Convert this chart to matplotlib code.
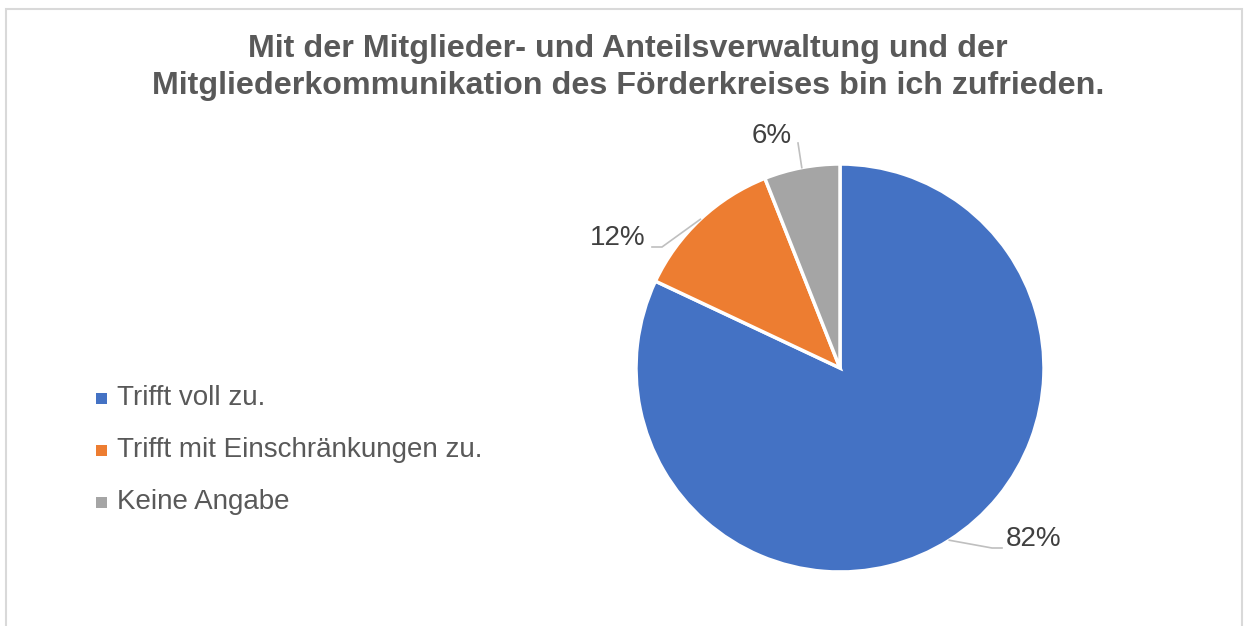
import numpy as np
import matplotlib
matplotlib.use("Agg")
import matplotlib.pyplot as plt
from matplotlib.patches import Rectangle

plt.rcParams['font.family'] = ['Liberation Sans', 'DejaVu Sans']

# Data
categories = ["Trifft voll zu.", "Trifft mit Einschränkungen zu.", "Keine Angabe"]
values = [82, 12, 6]
labels = ["82%", "12%", "6%"]
colors = ["#4472C4", "#ED7D31", "#A5A5A5"]
title_lines = ["Mit der Mitglieder- und Anteilsverwaltung und der",
               "Mitgliederkommunikation des Förderkreises bin ich zufrieden."]

W, H = 1249, 626
fig = plt.figure(figsize=(W / 100, H / 100), dpi=100)
ax = fig.add_axes([0, 0, 1, 1])

def Y(py):
    return H - py

cx, cy, r = 840, Y(368), 204
wedges, _ = ax.pie(values, colors=colors, startangle=90, counterclock=False,
                   center=(cx, cy), radius=r,
                   wedgeprops=dict(edgecolor="white", linewidth=2.5))
ax.set_xlim(0, W)
ax.set_ylim(0, H)
ax.set_aspect('auto')
ax.axis('off')

# border
ax.add_patch(Rectangle((6.5, Y(626) - 5), W - 13.5, Y(8.5) - Y(626) + 5, fill=False,
                       edgecolor="#D9D9D9", linewidth=1.5, clip_on=False))

# title (two lines, baselines)
for line, by in zip(title_lines, [57, 94]):
    ax.text(628, Y(by), line, ha='center', va='baseline', fontsize=23.2,
            fontweight='bold', color='#595959')

# data labels with leader lines (layout: elbow point, end point, text position)
layout = [
    dict(elbow=(992, 548), end=(1002, 548), text=(1006, 539), ha='left'),
    dict(elbow=(662, 247), end=(652, 247), text=(646, 238), ha='right'),
    dict(elbow=(798, 143), end=(798, 143), text=(772, 136), ha='center'),
]
for w, lab, lay in zip(wedges, labels, layout):
    ang = np.deg2rad((w.theta1 + w.theta2) / 2)
    sx, sy = cx + r * np.cos(ang), cy + r * np.sin(ang)
    ex, ey = lay['elbow']
    fx, fy = lay['end']
    ax.plot([sx, ex, fx], [sy, Y(ey), Y(fy)], color='#BFBFBF', lw=1.2,
            solid_joinstyle='miter')
    tx, ty = lay['text']
    ax.text(tx, Y(ty), lab, ha=lay['ha'], va='center', fontsize=20, color='#404040')

# legend
leg_y = [398, 450, 502]
for cat, col, ly in zip(categories, colors, leg_y):
    ax.add_patch(Rectangle((96, Y(ly) - 5.5), 11, 11, facecolor=col, edgecolor='none'))
    ax.text(117, Y(ly), cat, ha='left', va='center', fontsize=20, color='#595959')

fig.savefig("out.png", dpi=100)
